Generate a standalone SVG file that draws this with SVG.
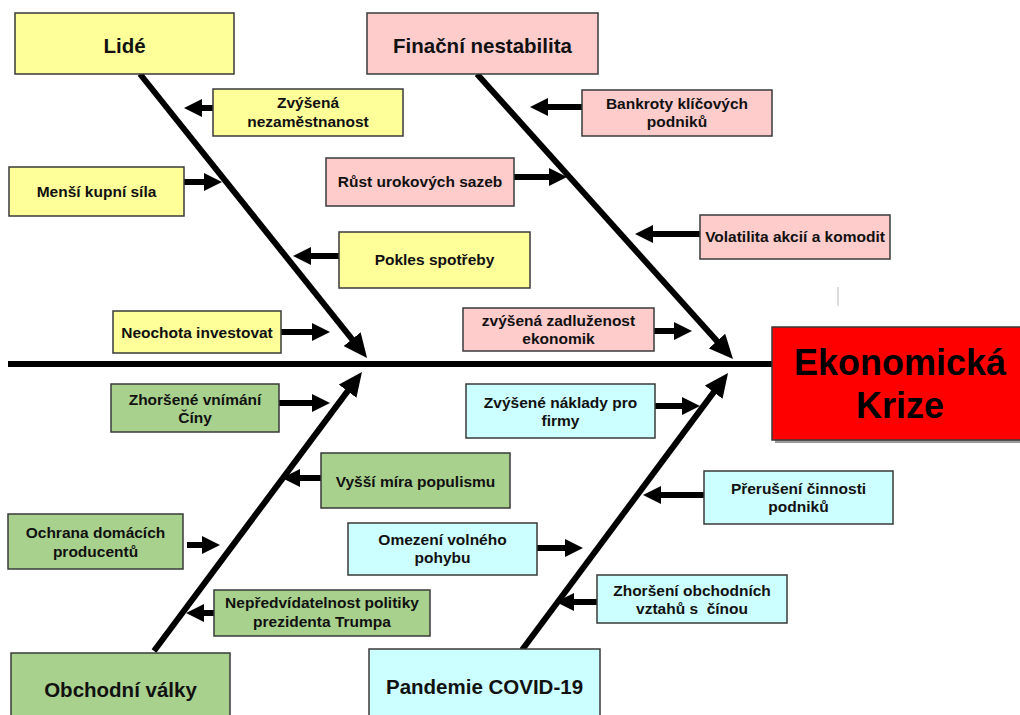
<svg xmlns="http://www.w3.org/2000/svg" width="1020" height="715" viewBox="0 0 1020 715">
<style>
rect.b{stroke:#3a3a3a;stroke-width:1.5}
.y{fill:#FFFF99}.p{fill:#FFCCCC}.g{fill:#A9D18E}.c{fill:#CCFFFF}
text{font-family:"Liberation Sans",Arial,sans-serif;font-weight:bold;fill:#111;text-anchor:middle}
.s{font-size:15.5px}.h{font-size:20.5px}
.k{font-size:36px;fill:#000}
line.a{stroke:#000;stroke-width:6;marker-end:url(#sa)}
line.bone{stroke:#000;stroke-width:6;marker-end:url(#ba)}
</style>
<defs>
<marker id="sa" markerUnits="userSpaceOnUse" markerWidth="18" markerHeight="18" refX="4" refY="9" orient="auto"><path d="M0,0 L18,9 L0,18 z" fill="#000"/></marker>
<marker id="ba" markerUnits="userSpaceOnUse" markerWidth="24" markerHeight="22" refX="6" refY="11" orient="auto"><path d="M0,0 L24,11 L0,22 z" fill="#000"/></marker>
</defs>
<rect width="1020" height="715" fill="#fff"/>
<line x1="838" y1="287" x2="838" y2="306" stroke="#bbb" stroke-width="1"/>
<g id="connectors">
<line x1="8" y1="364" x2="772" y2="364" stroke="#000" stroke-width="6"/>
<line class="bone" x1="140" y1="74" x2="355.8" y2="343.9"/>
<line class="bone" x1="477" y1="74" x2="721" y2="345.6"/>
<line class="bone" x1="154" y1="651" x2="351.2" y2="386.4"/>
<line class="bone" x1="522" y1="650" x2="717.3" y2="387.4"/>
<line class="a" x1="213" y1="108" x2="198" y2="108"/>
<line class="a" x1="184" y1="182" x2="208" y2="182"/>
<line class="a" x1="582" y1="107" x2="544" y2="107"/>
<line class="a" x1="514" y1="177" x2="553" y2="177"/>
<line class="a" x1="700" y1="234" x2="649" y2="234"/>
<line class="a" x1="339" y1="256" x2="307" y2="256"/>
<line class="a" x1="281" y1="332" x2="316" y2="332"/>
<line class="a" x1="654" y1="331" x2="678" y2="331"/>
<line class="a" x1="279" y1="403" x2="316" y2="403"/>
<line class="a" x1="655" y1="406" x2="686" y2="406"/>
<line class="a" x1="321" y1="478" x2="296" y2="478"/>
<line class="a" x1="187" y1="545" x2="206" y2="545"/>
<line class="a" x1="214" y1="613" x2="200" y2="613"/>
<line class="a" x1="537" y1="548" x2="569" y2="548"/>
<line class="a" x1="704" y1="495" x2="657" y2="495"/>
<line class="a" x1="597" y1="602" x2="570" y2="602"/>
</g>
<g id="lide"><rect class="b y" x="15" y="13" width="219" height="61"/><text class="h" x="124.5" y="53">Lidé</text></g>
<g id="financni"><rect class="b p" x="367" y="13" width="231" height="61"/><text class="h" x="482.5" y="53">Finační nestabilita</text></g>
<g id="zvysena-nezam"><rect class="b y" x="213" y="89" width="190" height="47"/><text class="s" x="308" y="108">Zvýšená</text><text class="s" x="308" y="127">nezaměstnanost</text></g>
<g id="mensi-kupni"><rect class="b y" x="9" y="167" width="175" height="49"/><text class="s" x="96.5" y="197">Menší kupní síla</text></g>
<g id="bankroty"><rect class="b p" x="582" y="90" width="190" height="46"/><text class="s" x="677" y="109">Bankroty klíčových</text><text class="s" x="677" y="127">podniků</text></g>
<g id="rust"><rect class="b p" x="326" y="158" width="188" height="48"/><text class="s" x="420" y="187">Růst urokových sazeb</text></g>
<g id="volatilita"><rect class="b p" x="700" y="215" width="190" height="44"/><text class="s" x="795" y="242">Volatilita akcií a komodit</text></g>
<g id="pokles"><rect class="b y" x="339" y="232" width="191" height="56"/><text class="s" x="434.5" y="265">Pokles spotřeby</text></g>
<g id="neochota"><rect class="b y" x="113" y="311" width="168" height="42"/><text class="s" x="197" y="338">Neochota investovat</text></g>
<g id="zadluzenost"><rect class="b p" x="463" y="308" width="191" height="43"/><text class="s" x="558.5" y="326">zvýšená zadluženost</text><text class="s" x="558.5" y="344">ekonomik</text></g>
<g id="ekonomicka-krize"><rect x="775" y="330" width="250" height="113" fill="#999"/><rect class="b" x="772" y="327" width="252" height="113" fill="#FF0000"/><text class="k" x="900" y="375">Ekonomická</text><text class="k" x="900" y="418">Krize</text></g>
<g id="zhorsene-vnimani"><rect class="b g" x="111" y="384" width="168" height="48"/><text class="s" x="195" y="405">Zhoršené vnímání</text><text class="s" x="195" y="423">Číny</text></g>
<g id="zvysene-naklady"><rect class="b c" x="466" y="384" width="189" height="54"/><text class="s" x="560.5" y="408">Zvýšené náklady pro</text><text class="s" x="560.5" y="426">firmy</text></g>
<g id="vyssi-mira"><rect class="b g" x="321" y="453" width="189" height="55"/><text class="s" x="415.5" y="487">Vyšší míra populismu</text></g>
<g id="ochrana"><rect class="b g" x="8" y="514" width="175" height="55"/><text class="s" x="95.5" y="538">Ochrana domácích</text><text class="s" x="95.5" y="557">producentů</text></g>
<g id="omezeni"><rect class="b c" x="348" y="523" width="189" height="52"/><text class="s" x="442.5" y="545">Omezení volného</text><text class="s" x="442.5" y="563">pohybu</text></g>
<g id="preruseni"><rect class="b c" x="704" y="471" width="189" height="53"/><text class="s" x="798.5" y="494">Přerušení činnosti</text><text class="s" x="798.5" y="512">podniků</text></g>
<g id="nepredvidatelnost"><rect class="b g" x="214" y="590" width="216" height="46"/><text class="s" x="322" y="608">Nepředvídatelnost politiky</text><text class="s" x="322" y="627">prezidenta Trumpa</text></g>
<g id="zhorseni-obchodnich"><rect class="b c" x="597" y="575" width="190" height="48"/><text class="s" x="692" y="596">Zhoršení obchodních</text><text class="s" x="692" y="614" xml:space="preserve">vztahů s  čínou</text></g>
<g id="obchodni-valky"><rect class="b g" x="11" y="653" width="219" height="70"/><text class="h" x="120.5" y="697">Obchodní války</text></g>
<g id="pandemie"><rect class="b c" x="369" y="649" width="231" height="74"/><text class="h" x="484.5" y="694">Pandemie COVID-19</text></g>
</svg>
